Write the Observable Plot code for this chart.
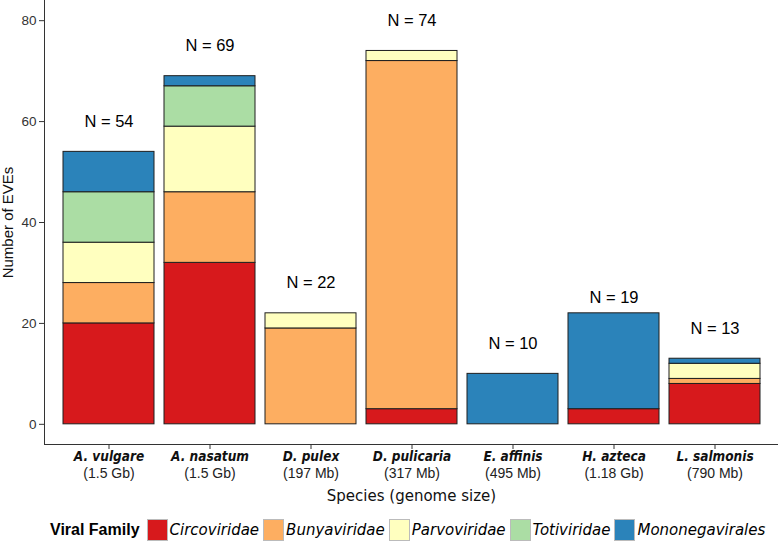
<!DOCTYPE html>
<html>
<head>
<meta charset="utf-8">
<script src="https://cdn.jsdelivr.net/npm/d3@7"></script>
<script src="https://cdn.jsdelivr.net/npm/@observablehq/plot@0.6"></script>
<style>
  body { margin: 0; background: #fff; }
  #legend { display: flex; align-items: center; height: 31px; padding-left: 50px; box-sizing: border-box; padding-top: 8px; }
  #legend .title { font-family: "Liberation Sans", Arial, sans-serif; font-weight: bold; font-size: 16px; margin-right: 7px; }
  #legend .sw { width: 21px; height: 22px; box-sizing: border-box; border: 1px solid #bbb; margin-right: 2px; }
  #legend .lab { font-family: "DejaVu Sans", sans-serif; font-style: italic; font-size: 15px; margin-right: 4px; }
</style>
</head>
<body>
<div id="chart"></div>
<div id="legend"></div>
<script>
const species = ["A. vulgare", "A. nasatum", "D. pulex", "D. pulicaria", "E. affinis", "H. azteca", "L. salmonis"];
const genomeSizes = ["(1.5 Gb)", "(1.5 Gb)", "(197 Mb)", "(317 Mb)", "(495 Mb)", "(1.18 Gb)", "(790 Mb)"];
const nLabels = [54, 69, 22, 74, 10, 19, 13];
const families = ["Circoviridae", "Bunyaviridae", "Parvoviridae", "Totiviridae", "Mononegavirales"];
const familyColors = ["#d7191c", "#fdae61", "#ffffbf", "#abdda4", "#2b83ba"];
// counts per family, in species order
const circoviridae    = [20, 32, 0, 3, 0, 3, 8];
const bunyaviridae    = [8, 14, 19, 69, 0, 0, 1];
const parvoviridae    = [8, 13, 3, 2, 0, 0, 3];
const totiviridae     = [10, 8, 0, 0, 0, 0, 0];
const mononegavirales = [8, 2, 0, 0, 10, 19, 1];
const yTicks = [0, 20, 40, 60, 80];

const series = [circoviridae, bunyaviridae, parvoviridae, totiviridae, mononegavirales];
const rows = [];
species.forEach((s, i) => {
  families.forEach((f, j) => {
    if (series[j][i] > 0) rows.push({species: s, family: f, count: series[j][i]});
  });
});
const labels = species.map((s, i) => ({species: s, n: nLabels[i], genome: genomeSizes[i]}));

const chart = Plot.plot({
  width: 778,
  height: 510,
  marginLeft: 44,
  marginRight: 0,
  marginTop: 0,
  marginBottom: 66,
  style: {fontFamily: "Liberation Sans, Arial, sans-serif", background: "#fff"},
  x: {type: "band", domain: species, paddingInner: 0.1, paddingOuter: 0.15, label: null},
  y: {domain: [-4, 84], label: null},
  color: {domain: families, range: familyColors},
  marks: [
    Plot.barY(rows, {x: "species", y: "count", fill: "family", stroke: "#1e1e1e", strokeWidth: 1}),
    Plot.frame({anchor: "left", stroke: "#333"}),
    Plot.frame({anchor: "bottom", stroke: "#333"}),
    Plot.axisY({ticks: yTicks, tickSize: 5, tickPadding: 3, fontSize: 13.5, color: "#333", label: null}),
    Plot.axisX({tickSize: 5, tickFormat: () => "", color: "#333", label: null}),
    Plot.text(labels, {x: "species", y: d => d.n + 6, text: d => `N = ${d.n}`, fontSize: 16.5, fill: "#000"}),
    Plot.text(labels, {x: "species", text: "species", frameAnchor: "bottom", dy: 12, lineAnchor: "middle",
      fontFamily: "DejaVu Sans Condensed", fontStyle: "italic", fontWeight: "bold", fontSize: 13.5, fill: "#111"}),
    Plot.text(labels, {x: "species", text: "genome", frameAnchor: "bottom", dy: 29, lineAnchor: "middle",
      fontFamily: "Liberation Sans, Arial, sans-serif", fontSize: 14, fill: "#222"}),
    Plot.text(["Species (genome size)"], {frameAnchor: "bottom", dy: 52, lineAnchor: "middle",
      fontFamily: "DejaVu Sans", fontSize: 15, fill: "#111"}),
    Plot.text(["Number of EVEs"], {frameAnchor: "left", dx: -36, rotate: -90, lineAnchor: "middle",
      textAnchor: "middle", fontSize: 15, fill: "#111"})
  ]
});
document.getElementById("chart").appendChild(chart);

const legend = document.getElementById("legend");
legend.innerHTML = `<span class="title">Viral Family</span>` +
  families.map((f, i) => `<span class="sw" style="background:${familyColors[i]}"></span><span class="lab">${f}</span>`).join("");
</script>
</body>
</html>
